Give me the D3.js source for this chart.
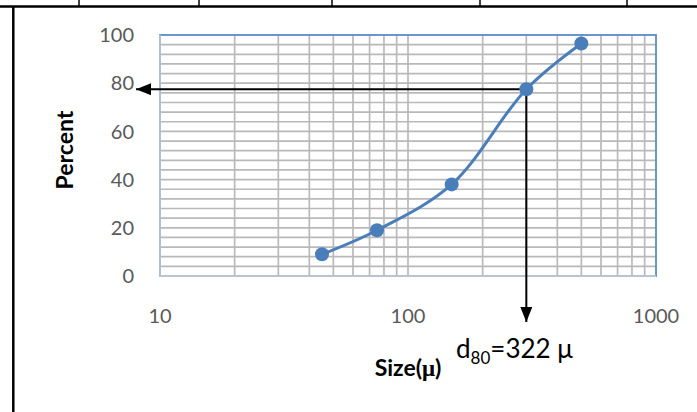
<!DOCTYPE html>
<html>
<head>
<meta charset="utf-8">
<script src="https://cdn.jsdelivr.net/npm/d3@7"></script>
<style>
  body { margin: 0; background: #fff; }
  svg { display: block; font-family: Lato, "Open Sans", sans-serif; }
</style>
</head>
<body>
<div id="chart"></div>
<script>
// --- Data ---
const sizes = [45, 75, 150, 300, 500];          // particle size (micron)
const percents = [9, 19, 38, 77.5, 96.5];       // cumulative percent passing
const xTicks = [10, 100, 1000];
const yTicks = [0, 20, 40, 60, 80, 100];
const d80Size = 300;                            // where the guide arrows meet
const d80Pct = 77.5;
const d80Label = "322 μ";

const width = 697;
const height = 412;
const plot = { left: 160, right: 656, top: 35, bottom: 276 };

const svg = d3
  .select("#chart")
  .append("svg")
  .attr("width", width)
  .attr("height", height);

// --- Table border fragments around the figure ---
const border = svg.append("g").attr("stroke", "#000");
border
  .append("line")
  .attr("x1", 0).attr("x2", width)
  .attr("y1", 6.5).attr("y2", 6.5)
  .attr("stroke-width", 2.7);
border
  .selectAll(".cell")
  .data([79, 199, 332, 480, 627])
  .join("line")
  .attr("x1", (d) => d).attr("x2", (d) => d)
  .attr("y1", 0).attr("y2", 6)
  .attr("stroke-width", 1.5);
border
  .append("line")
  .attr("x1", 13.3).attr("x2", 13.3)
  .attr("y1", 6).attr("y2", height)
  .attr("stroke-width", 2.5);

// --- Scales ---
const x = d3.scaleLog().domain([10, 1000]).range([plot.left, plot.right]);
const y = d3.scaleLinear().domain([0, 100]).range([plot.bottom, plot.top]);

// --- Gridlines ---
const grid = svg.append("g").attr("stroke", "#b9b9b9").attr("stroke-width", 1.7);

const hGrid = d3.range(4, 100, 4);
grid
  .selectAll(".h")
  .data(hGrid)
  .join("line")
  .attr("x1", plot.left).attr("x2", plot.right)
  .attr("y1", (d) => y(d)).attr("y2", (d) => y(d));

const vGrid = x.ticks().filter((d) => d > 10 && d < 1000);
grid
  .selectAll(".v")
  .data(vGrid)
  .join("line")
  .attr("x1", (d) => x(d)).attr("x2", (d) => x(d))
  .attr("y1", plot.top).attr("y2", plot.bottom);

// plot area frame (blue) + axis lines (pale)
svg
  .append("rect")
  .attr("x", plot.left).attr("y", plot.top)
  .attr("width", plot.right - plot.left)
  .attr("height", plot.bottom - plot.top)
  .attr("fill", "none")
  .attr("stroke", "#5b8bc9")
  .attr("stroke-width", 1.8);

svg
  .append("path")
  .attr("d", `M${plot.left},${plot.top} V${plot.bottom} H${plot.right}`)
  .attr("fill", "none")
  .attr("stroke", "#b8c4d4")
  .attr("stroke-width", 1.8);

// --- Tick labels ---
svg
  .append("g")
  .attr("fill", "#595959")
  .attr("font-size", 20)
  .attr("text-anchor", "end")
  .selectAll("text")
  .data(yTicks)
  .join("text")
  .attr("x", plot.left - 26)
  .attr("y", (d) => y(d))
  .attr("dy", "0.36em")
  .text((d) => d);

svg
  .append("g")
  .attr("fill", "#595959")
  .attr("font-size", 20)
  .attr("text-anchor", "middle")
  .selectAll("text")
  .data(xTicks)
  .join("text")
  .attr("x", (d) => x(d))
  .attr("y", plot.bottom + 40)
  .attr("dy", "0.36em")
  .text((d) => d);

// --- Axis titles ---
svg
  .append("text")
  .attr("transform", `translate(73,150) rotate(-90)`)
  .attr("text-anchor", "middle")
  .attr("font-size", 23)
  .attr("font-weight", "bold")
  .attr("fill", "#000")
  .text("Percent");

const sizeTitle = svg
  .append("text")
  .attr("x", (plot.left + plot.right) / 2)
  .attr("y", 376)
  .attr("text-anchor", "middle")
  .attr("font-size", 23)
  .attr("font-weight", "bold")
  .attr("fill", "#000");
sizeTitle.append("tspan").text("Size(");
sizeTitle.append("tspan").attr("font-family", "Liberation Serif, serif").text("μ");
sizeTitle.append("tspan").text(")");

const d80 = svg
  .append("text")
  .attr("x", 456)
  .attr("y", 358)
  .attr("font-size", 26)
  .attr("fill", "#000");
d80.append("tspan").text("d");
d80.append("tspan").attr("font-size", 17).attr("dy", 6).text("80");
d80.append("tspan").attr("dy", -6).text("=" + d80Label);

// --- Guide arrows ---
svg
  .append("defs")
  .append("marker")
  .attr("id", "head")
  .attr("viewBox", "0 0 15 12")
  .attr("refX", 15)
  .attr("refY", 6)
  .attr("markerWidth", 15)
  .attr("markerHeight", 12)
  .attr("markerUnits", "userSpaceOnUse")
  .attr("orient", "auto")
  .append("path")
  .attr("d", "M0,0 L15,6 L0,12 Z")
  .attr("fill", "#000");

const ax = x(d80Size);
const ay = y(d80Pct);

svg
  .append("line")
  .attr("x1", ax).attr("y1", ay)
  .attr("x2", plot.left - 24).attr("y2", ay)
  .attr("stroke", "#000")
  .attr("stroke-width", 2)
  .attr("marker-end", "url(#head)");

svg
  .append("line")
  .attr("x1", ax).attr("y1", ay)
  .attr("x2", ax).attr("y2", plot.bottom + 46)
  .attr("stroke", "#000")
  .attr("stroke-width", 2)
  .attr("marker-end", "url(#head)");

// --- Series ---
const pts = sizes.map((s, i) => [x(s), y(percents[i])]);

svg
  .append("path")
  .attr("d", d3.line().curve(d3.curveCatmullRom.alpha(0.5))(pts))
  .attr("fill", "none")
  .attr("stroke", "#4a7ebb")
  .attr("stroke-width", 3);

svg
  .append("g")
  .selectAll("circle")
  .data(pts)
  .join("circle")
  .attr("cx", (d) => d[0])
  .attr("cy", (d) => d[1])
  .attr("r", 7)
  .attr("fill", "#4a7ebb");
</script>
</body>
</html>
